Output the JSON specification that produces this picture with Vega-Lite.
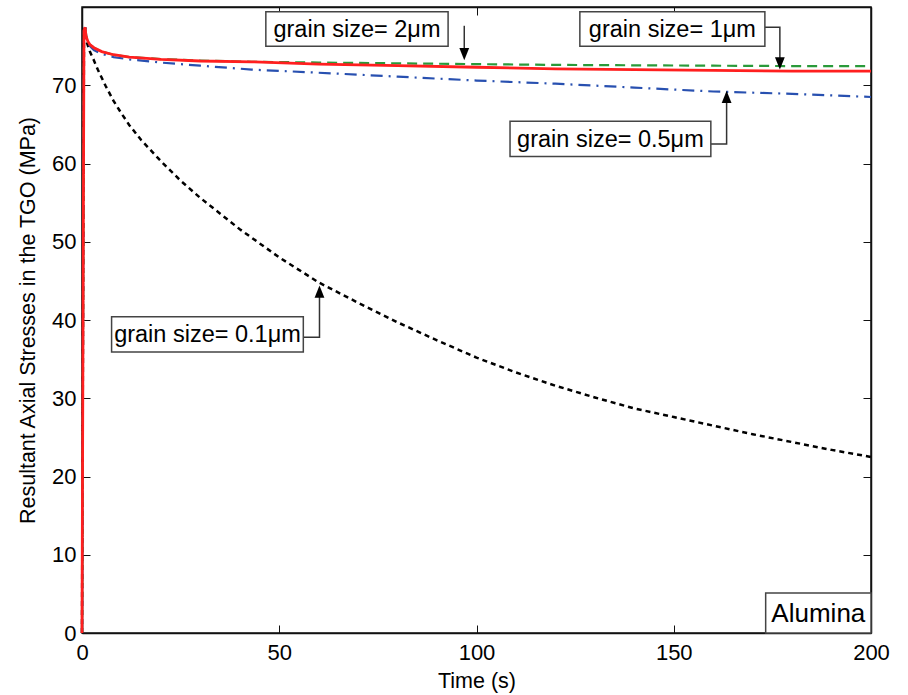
{
  "$schema": "https://vega.github.io/schema/vega-lite/v6.json",
  "width": 789,
  "height": 626,
  "autosize": "none",
  "padding": {"left": 82, "top": 7, "right": 37, "bottom": 62},
  "background": "white",
  "config": {
    "view": {"stroke": "#111", "strokeWidth": 1.5},
    "font": "Liberation Sans",
    "axis": {"grid": false, "labelFlush": false, "labelOverlap": false, "domainColor": "#111", "domainWidth": 1.5, "tickColor": "#111", "tickWidth": 1, "labelColor": "#000", "labelFont": "Liberation Sans", "labelFontSize": 22, "titleFont": "Liberation Sans", "titleFontSize": 21.5, "titleFontWeight": "normal", "titleColor": "#000"}
  },
  "datasets": {
    "d01": [
      {"t": 0, "v": 0}, {"t": 0.5, "v": 77.0}, {"t": 0.8, "v": 77.4}, {"t": 1.2, "v": 75.5}, {"t": 2, "v": 74.3}, {"t": 3, "v": 73.2}, {"t": 4, "v": 72.0}, {"t": 6, "v": 69.9}, {"t": 8, "v": 68.0}, {"t": 10, "v": 66.4}, {"t": 12, "v": 64.9}, {"t": 15, "v": 63.0}, {"t": 20, "v": 60.3}, {"t": 25, "v": 57.8}, {"t": 30, "v": 55.6}, {"t": 40, "v": 51.6}, {"t": 50, "v": 48.0}, {"t": 60, "v": 44.8}, {"t": 70, "v": 42.2}, {"t": 80, "v": 39.7}, {"t": 90, "v": 37.4}, {"t": 100, "v": 35.2}, {"t": 110, "v": 33.3}, {"t": 120, "v": 31.6}, {"t": 130, "v": 30.1}, {"t": 140, "v": 28.7}, {"t": 150, "v": 27.6}, {"t": 160, "v": 26.5}, {"t": 170, "v": 25.4}, {"t": 180, "v": 24.4}, {"t": 190, "v": 23.4}, {"t": 200, "v": 22.5}
    ],
    "d05": [
      {"t": 0, "v": 0}, {"t": 0.5, "v": 77.0}, {"t": 0.8, "v": 77.4}, {"t": 1.0, "v": 76.2}, {"t": 1.5, "v": 75.4}, {"t": 2, "v": 75.0}, {"t": 3, "v": 74.5}, {"t": 5, "v": 74.0}, {"t": 8, "v": 73.6}, {"t": 12, "v": 73.3}, {"t": 20, "v": 72.9}, {"t": 30, "v": 72.5}, {"t": 43, "v": 72.0}, {"t": 60, "v": 71.6}, {"t": 80, "v": 71.1}, {"t": 100, "v": 70.6}, {"t": 120, "v": 70.2}, {"t": 140, "v": 69.7}, {"t": 160, "v": 69.2}, {"t": 180, "v": 68.9}, {"t": 200, "v": 68.5}
    ],
    "d2": [
      {"t": 0, "v": 0}, {"t": 0.5, "v": 77.0}, {"t": 0.8, "v": 77.4}, {"t": 1.0, "v": 76.3}, {"t": 1.5, "v": 75.6}, {"t": 2, "v": 75.2}, {"t": 3, "v": 74.8}, {"t": 5, "v": 74.3}, {"t": 8, "v": 73.9}, {"t": 12, "v": 73.6}, {"t": 20, "v": 73.35}, {"t": 30, "v": 73.15}, {"t": 43, "v": 73.0}, {"t": 60, "v": 72.9}, {"t": 80, "v": 72.8}, {"t": 100, "v": 72.7}, {"t": 120, "v": 72.6}, {"t": 140, "v": 72.55}, {"t": 160, "v": 72.5}, {"t": 180, "v": 72.45}, {"t": 200, "v": 72.45}
    ],
    "d1": [
      {"t": 0, "v": 0}, {"t": 0.5, "v": 77.0}, {"t": 0.8, "v": 77.4}, {"t": 1.0, "v": 76.3}, {"t": 1.5, "v": 75.6}, {"t": 2, "v": 75.2}, {"t": 3, "v": 74.8}, {"t": 5, "v": 74.3}, {"t": 8, "v": 73.9}, {"t": 12, "v": 73.6}, {"t": 20, "v": 73.3}, {"t": 30, "v": 73.1}, {"t": 43, "v": 73.0}, {"t": 60, "v": 72.7}, {"t": 80, "v": 72.5}, {"t": 100, "v": 72.3}, {"t": 120, "v": 72.1}, {"t": 140, "v": 72.0}, {"t": 160, "v": 71.9}, {"t": 180, "v": 71.8}, {"t": 200, "v": 71.8}
    ],
    "boxes": [
      {"label": "grain size= 2μm", "t": 46.6, "t2": 92.8, "v": 79.4, "v2": 75.0},
      {"label": "grain size= 1μm", "t": 126.2, "t2": 173.1, "v": 79.4, "v2": 75.0},
      {"label": "grain size= 0.5μm", "t": 108.5, "t2": 159.4, "v": 65.4, "v2": 60.9},
      {"label": "grain size= 0.1μm", "t": 7.5, "t2": 56.1, "v": 40.4, "v2": 35.9},
      {"label": "Alumina", "t": 173.3, "t2": 200, "v": 5.1, "v2": 0}
    ],
    "labels": [
      {"label": "grain size= 2μm", "t": 69.7, "v": 77.2},
      {"label": "grain size= 1μm", "t": 149.65, "v": 77.2},
      {"label": "grain size= 0.5μm", "t": 133.95, "v": 63.15},
      {"label": "grain size= 0.1μm", "t": 31.8, "v": 38.15},
      {"label": "Alumina", "t": 186.65, "v": 2.55}
    ],
    "conn": [
      {"id": "a2", "seq": 1, "t": 96.9, "v": 77.6}, {"id": "a2", "seq": 2, "t": 96.9, "v": 73.6},
      {"id": "a1", "seq": 1, "t": 173.1, "v": 77.4}, {"id": "a1", "seq": 2, "t": 176.9, "v": 77.4}, {"id": "a1", "seq": 3, "t": 176.9, "v": 72.4},
      {"id": "a05", "seq": 1, "t": 159.4, "v": 62.5}, {"id": "a05", "seq": 2, "t": 163.4, "v": 62.5}, {"id": "a05", "seq": 3, "t": 163.4, "v": 68.9},
      {"id": "a01", "seq": 1, "t": 56.1, "v": 37.8}, {"id": "a01", "seq": 2, "t": 60.2, "v": 37.8}, {"id": "a01", "seq": 3, "t": 60.2, "v": 44.0}
    ],
    "heads": [
      {"dir": "down", "t": 96.9, "v": 73.2},
      {"dir": "down", "t": 176.9, "v": 72.0},
      {"dir": "up", "t": 163.4, "v": 69.3},
      {"dir": "up", "t": 60.2, "v": 44.4}
    ]
  },
  "encoding": {
    "x": {"field": "t", "type": "quantitative", "scale": {"domain": [0, 200], "nice": false, "zero": false}, "axis": null},
    "y": {"field": "v", "type": "quantitative", "scale": {"domain": [0, 80], "nice": false, "zero": false}, "axis": null}
  },
  "layer": [
    {
      "data": {"name": "d01"},
      "mark": {"type": "line", "color": "#000", "strokeWidth": 2.5, "strokeDash": [5, 4]},
      "encoding": {
        "x": {"field": "t", "type": "quantitative", "scale": {"domain": [0, 200], "nice": false, "zero": false},
          "axis": {"orient": "bottom", "values": [0, 50, 100, 150, 200], "tickSize": -8, "labelPadding": 17, "labelFlush": false, "title": "Time (s)", "titlePadding": 7}},
        "y": {"field": "v", "type": "quantitative", "scale": {"domain": [0, 80], "nice": false, "zero": false},
          "axis": {"orient": "left", "values": [0, 10, 20, 30, 40, 50, 60, 70], "tickSize": -8, "labelPadding": 14, "labelFlush": false, "title": "Resultant Axial Stresses in the TGO (MPa)", "titlePadding": 12}}
      }
    },
    {
      "data": {"name": "d05"},
      "mark": {"type": "line", "color": "#2850b0", "strokeWidth": 2.2, "strokeDash": [12, 6, 2, 6]},
      "encoding": {
        "x": {"field": "t", "type": "quantitative", "scale": {"domain": [0, 200], "nice": false, "zero": false},
          "axis": {"orient": "top", "values": [0, 50, 100, 150, 200], "tickSize": -8, "labels": false, "title": null}},
        "y": {"field": "v", "type": "quantitative", "scale": {"domain": [0, 80], "nice": false, "zero": false},
          "axis": {"orient": "right", "values": [0, 10, 20, 30, 40, 50, 60, 70], "tickSize": -8, "labels": false, "title": null}}
      }
    },
    {
      "data": {"name": "d2"},
      "mark": {"type": "line", "color": "#2a9a3a", "strokeWidth": 2.2, "strokeDash": [10, 6]}
    },
    {
      "data": {"name": "d1"},
      "mark": {"type": "line", "color": "#ff1f1f", "strokeWidth": 2.8}
    },
    {
      "data": {"name": "conn"},
      "mark": {"type": "line", "color": "#333", "strokeWidth": 1.5, "interpolate": "linear"},
      "encoding": {
        "detail": {"field": "id"},
        "order": {"field": "seq", "type": "quantitative"}
      }
    },
    {
      "data": {"name": "heads"},
      "mark": {"type": "point", "filled": true, "color": "#000", "opacity": 1, "size": 600},
      "encoding": {
        "shape": {"field": "dir", "type": "nominal", "scale": {"domain": ["down", "up"], "range": ["M-0.4,-1L0.4,-1L0,0Z", "M-0.4,1L0.4,1L0,0Z"]}, "legend": null}
      }
    },
    {
      "data": {"name": "boxes"},
      "mark": {"type": "rect", "fill": "white", "stroke": "#444", "strokeWidth": 1.5},
      "encoding": {
        "x2": {"field": "t2"},
        "y2": {"field": "v2"}
      }
    },
    {
      "data": {"name": "labels"},
      "transform": [{"filter": "datum.label !== 'Alumina'"}],
      "mark": {"type": "text", "fontSize": 23.5, "font": "Liberation Sans", "color": "#000", "align": "center", "baseline": "middle", "dy": 1},
      "encoding": {"text": {"field": "label"}}
    },
    {
      "data": {"name": "labels"},
      "transform": [{"filter": "datum.label === 'Alumina'"}],
      "mark": {"type": "text", "fontSize": 26, "font": "Liberation Sans", "color": "#000", "align": "center", "baseline": "middle", "dy": 1},
      "encoding": {"text": {"field": "label"}}
    }
  ],
  "resolve": {"axis": {"x": "independent", "y": "independent"}}
}
